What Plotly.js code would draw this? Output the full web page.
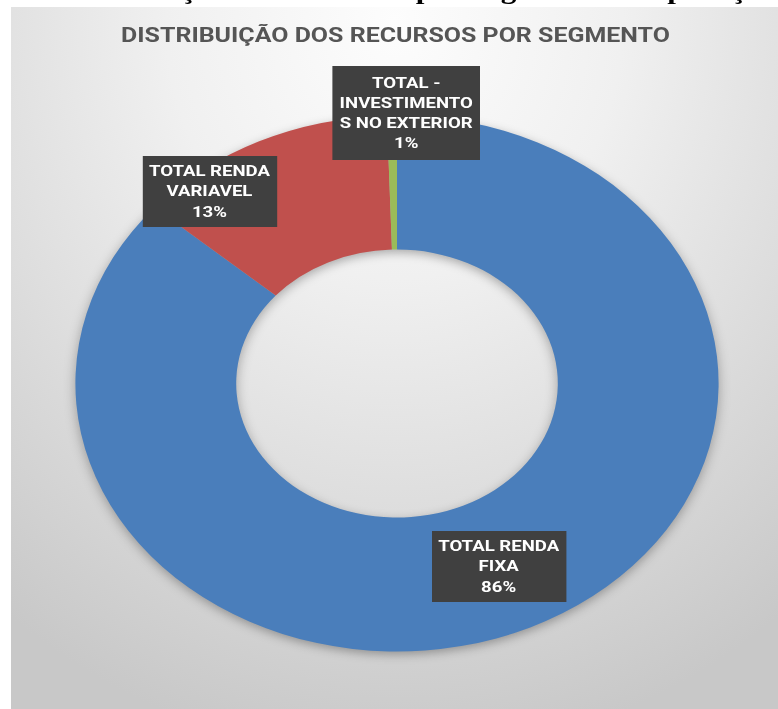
<!DOCTYPE html>
<html>
<head>
<meta charset="utf-8">
<script src="https://cdn.plot.ly/plotly-3.0.1.min.js"></script>
<style>
  html, body { margin:0; padding:0; background:#ffffff; overflow:hidden; width:778px; height:709px; }
  #bg { position:absolute; left:11px; top:7px; width:767px; height:702px;
        background: radial-gradient(ellipse 85% 105% at 50% 2%, #fdfdfd 0%, #f0f0f0 35%, #dedede 65%, #c8c8c8 100%); }
  #chart { position:absolute; left:0; top:0; width:648px; height:709px; transform:scaleX(1.2); transform-origin:0 0; }
  .pielayer { filter: drop-shadow(0px 3px 5px rgba(0,0,0,0.30)); }
</style>
</head>
<body>
<div id="bg"></div>
<div id="chart"></div>
<script>
// ---- data ----
const categories = ['TOTAL RENDA FIXA', 'TOTAL RENDA VARIAVEL', 'TOTAL - INVESTIMENTOS NO EXTERIOR'];
const values = [86.4, 13.1, 0.5];
const labelLines = ['TOTAL RENDA<br>FIXA', 'TOTAL RENDA<br>VARIAVEL', 'TOTAL -<br>INVESTIMENTO<br>S NO EXTERIOR'];
const colors = ['#4a7ebb', '#c0504d', '#9bbb59'];
const chartTitle = 'DISTRIBUIÇÃO DOS RECURSOS POR SEGMENTO';
const pageTitle = 'Distribuição dos Recursos por Segmento de Aplicação';

// ---- geometry helpers (page px -> paper) ----
const W = 648, H = 709, SX = 1.2;
const px = x => x / SX / W;
const py = y => (H - y) / H;

const total = values.reduce((a, b) => a + b, 0);
const pct = values.map(v => Math.round(v / total * 100) + '%');

// label box placement (page px): center x, center y, width, height
const boxes = [
  {cx: 499, cy: 566.5, w: 134, h: 71},
  {cx: 210, cy: 191.5, w: 134, h: 71},
  {cx: 406, cy: 113,   w: 148, h: 94}
];

const labelFont = {family: 'Roboto, "Open Sans", sans-serif', size: 15.5, color: '#ffffff', weight: 700};

const annotations = boxes.map((b, i) => ({
  xref: 'paper', yref: 'paper',
  x: px(b.cx), y: py(b.cy), xanchor: 'center', yanchor: 'middle',
  text: '<b>' + labelLines[i] + '<br>' + pct[i] + '</b>',
  showarrow: false, align: 'center', valign: 'middle',
  bgcolor: '#404040', borderpad: 0, borderwidth: 0,
  width: b.w / SX, height: b.h,
  font: labelFont
}));

annotations.push({
  xref: 'paper', yref: 'paper',
  x: px(60), y: py(6), xanchor: 'left', yanchor: 'bottom',
  text: '<b>' + pageTitle + '</b>', showarrow: false, borderpad: 0,
  font: {family: '"Liberation Serif", "Times New Roman", serif', size: 26, color: '#000000'}
});

const cx = 397 / SX, cyFromBottom = H - 383.5, R = 268;

const trace = {
  type: 'pie',
  labels: categories,
  values: values,
  sort: false,
  direction: 'clockwise',
  rotation: 0,
  hole: 0.5,
  textinfo: 'none',
  hoverinfo: 'none',
  marker: {colors: colors, line: {width: 0}},
  domain: {x: [(cx - R) / W, (cx + R) / W], y: [(cyFromBottom - R) / H, (cyFromBottom + R) / H]}
};

const layout = {
  width: W, height: H,
  margin: {l: 0, r: 0, t: 0, b: 0},
  paper_bgcolor: 'rgba(0,0,0,0)',
  plot_bgcolor: 'rgba(0,0,0,0)',
  showlegend: false,
  title: {
    text: '<b>' + chartTitle + '</b>',
    x: px(395.5), y: py(34.5), xanchor: 'center', yanchor: 'middle',
    xref: 'paper', yref: 'paper',
    font: {family: 'Roboto, "Open Sans", sans-serif', size: 20.8, color: '#555555'}
  },
  annotations: annotations
};

Plotly.newPlot('chart', [trace], layout, {displayModeBar: false, staticPlot: true});
</script>
</body>
</html>
